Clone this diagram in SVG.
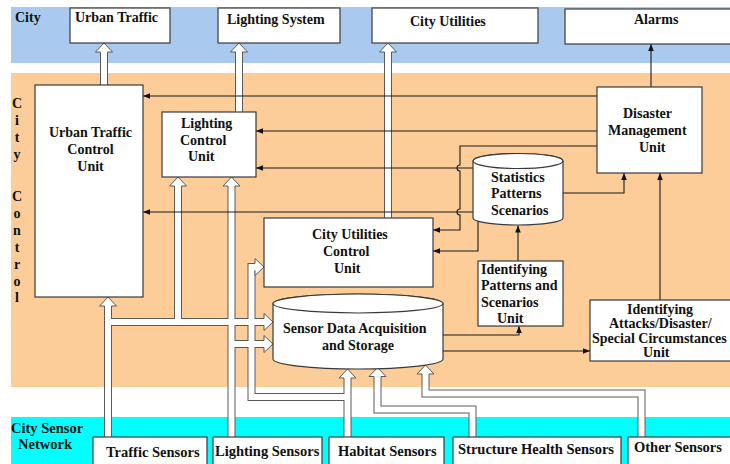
<svg xmlns="http://www.w3.org/2000/svg" width="730" height="464" viewBox="0 0 730 464">
<style>
.t{font-family:"Liberation Serif","Times New Roman",serif;font-weight:bold;font-size:14px;fill:#111}
.s{font-size:14.5px}
.box{fill:#fff;stroke:#3a3a3a;stroke-width:1.2}
.ln{fill:none;stroke:#1a1a1a;stroke-width:1.1;marker-end:url(#ah)}
.po{fill:none;stroke:#5a5a5a;stroke-width:8}
.pi{fill:none;stroke:#fff;stroke-width:6}
.hd{fill:#fff;stroke:#5a5a5a;stroke-width:1}
</style>
<defs>
<marker id="ah" viewBox="0 0 10 10" refX="10" refY="5" markerWidth="7" markerHeight="7" markerUnits="userSpaceOnUse" orient="auto"><path d="M0,1 L10,5 L0,9 z" fill="#111"/></marker>
<path id="hu" d="M-3.5,9 H-8.5 L0,0 L8.5,9 H3.5"/>
</defs>
<g id="bands">
<rect x="11" y="7" width="719" height="56" fill="#a9c9ee"/>
<rect x="11" y="73" width="719" height="314" fill="#fccc99"/>
<rect x="11" y="417" width="719" height="47" fill="#00ffff"/>
<text class="t" x="15" y="22">City</text>
<text class="t" text-anchor="middle"><tspan x="17" y="108">C</tspan><tspan x="17" y="125">i</tspan><tspan x="17" y="142">t</tspan><tspan x="17" y="159">y</tspan><tspan x="17" y="201">C</tspan><tspan x="17" y="218">o</tspan><tspan x="17" y="235">n</tspan><tspan x="17" y="252">t</tspan><tspan x="17" y="269">r</tspan><tspan x="17" y="286">o</tspan><tspan x="17" y="302">l</tspan></text>
<text class="t s"><tspan x="11" y="433">City Sensor</tspan><tspan x="18" y="449">Network</tspan></text>
</g>
<g id="connectors">
<path class="po" d="M108,437 V306 M108,322 H264 M178,322 V186 M231.5,437 V186 M231.5,344 H264 M347.5,437 V378 M347.5,397 H251.5 V267 H255 M472.5,437 V409.5 H377.5 V376.5 M641.5,437 V393.5 H425.5 V374 M104,85 V52 M239,112 V52 M388,218 V52"/>
<path class="pi" d="M108,437 V306 M108,322 H264 M178,322 V186 M231.5,437 V186 M231.5,344 H264 M347.5,437 V378 M347.5,397 H251.5 V267 H255 M472.5,437 V409.5 H377.5 V376.5 M641.5,437 V393.5 H425.5 V374 M104,85 V52 M239,112 V52 M388,218 V52"/>
<use href="#hu" class="hd" transform="translate(104,43)"/>
<use href="#hu" class="hd" transform="translate(239,43)"/>
<use href="#hu" class="hd" transform="translate(388,43)"/>
<use href="#hu" class="hd" transform="translate(108,297)"/>
<use href="#hu" class="hd" transform="translate(178,177)"/>
<use href="#hu" class="hd" transform="translate(231.5,177)"/>
<use href="#hu" class="hd" transform="translate(347.5,369)"/>
<use href="#hu" class="hd" transform="translate(377.5,367.5)"/>
<use href="#hu" class="hd" transform="translate(425.5,365)"/>
<use href="#hu" class="hd" transform="translate(273,322) rotate(90)"/>
<use href="#hu" class="hd" transform="translate(273,344) rotate(90)"/>
<use href="#hu" class="hd" transform="translate(264,267) rotate(90)"/>
<path class="ln" d="M651,87 V44"/>
<path class="ln" d="M597,96 H143"/>
<path class="ln" d="M597,131 H256"/>
<path class="ln" d="M597,146 H460 V165 A3,3 0 0 0 460,171 V209 A3,3 0 0 0 460,215 V230 H433"/>
<path class="ln" d="M473,168 H256"/>
<path class="ln" d="M473,212 H143"/>
<path class="ln" d="M478,221 V251 H433"/>
<path class="ln" d="M563,193 H624 V173"/>
<path class="ln" d="M660,300 V173"/>
<path class="ln" d="M518,261 V225.5"/>
<path class="ln" d="M443,335 H519 V326"/>
<path class="ln" d="M443,351 H590"/>
</g>
<g id="urban-traffic"><rect class="box" x="70" y="8" width="100" height="35"/><text class="t" x="75" y="22">Urban Traffic</text></g>
<g id="lighting-system"><rect class="box" x="218" y="8" width="122" height="35"/><text class="t" x="227" y="24">Lighting System</text></g>
<g id="city-utilities"><rect class="box" x="372" y="8" width="166" height="35"/><text class="t" x="410" y="26">City Utilities</text></g>
<g id="alarms"><rect class="box" x="565" y="9" width="170" height="35"/><text class="t" x="634" y="24">Alarms</text></g>
<g id="urban-traffic-control"><rect class="box" x="35" y="85" width="108" height="212"/><text class="t" text-anchor="middle"><tspan x="90.5" y="137">Urban Traffic</tspan><tspan x="90.5" y="154">Control</tspan><tspan x="90.5" y="171">Unit</tspan></text></g>
<g id="lighting-control"><rect class="box" x="162" y="112" width="94" height="65"/><text class="t"><tspan x="181" y="128">Lighting</tspan><tspan x="180" y="145">Control</tspan><tspan x="188" y="161">Unit</tspan></text></g>
<g id="city-utilities-control"><rect class="box" x="264" y="218" width="169" height="69"/><text class="t"><tspan x="312" y="239">City Utilities</tspan><tspan x="323" y="256">Control</tspan><tspan x="334" y="273">Unit</tspan></text></g>
<g id="disaster-management"><rect class="box" x="597" y="87" width="105" height="86"/><text class="t"><tspan x="623" y="118">Disaster</tspan><tspan x="608" y="135">Management</tspan><tspan x="639" y="152">Unit</tspan></text></g>
<g id="statistics"><path class="box" d="M473,161 V218 A45,7 0 0 0 563,218 V161 A45,7.5 0 0 0 473,161 Z"/><ellipse class="box" cx="518" cy="161" rx="45" ry="7.5"/><text class="t"><tspan x="491" y="182">Statistics</tspan><tspan x="491" y="198">Patterns</tspan><tspan x="491" y="215">Scenarios</tspan></text></g>
<g id="identifying-patterns"><rect class="box" x="478" y="261" width="85" height="65"/><text class="t"><tspan x="481" y="274">Identifying</tspan><tspan x="481" y="290">Patterns and</tspan><tspan x="481" y="307">Scenarios</tspan><tspan x="497" y="323">Unit</tspan></text></g>
<g id="sensor-data"><path class="box" d="M273,303.5 V359 A85,10 0 0 0 443,359 V303.5 A85,9.5 0 0 0 273,303.5 Z"/><ellipse class="box" cx="358" cy="303.5" rx="85" ry="9.5"/><text class="t"><tspan x="283" y="333">Sensor Data Acquisition</tspan><tspan x="322" y="350">and Storage</tspan></text></g>
<g id="identifying-attacks"><rect class="box" x="590" y="300" width="145" height="61"/><text class="t"><tspan x="627" y="314">Identifying</tspan><tspan x="609" y="328">Attacks/Disaster/</tspan><tspan x="592" y="343">Special Circumstances</tspan><tspan x="643" y="357">Unit</tspan></text></g>
<g id="traffic-sensors"><rect class="box" x="93" y="437" width="114" height="30"/><text class="t s" x="106" y="457">Traffic Sensors</text></g>
<g id="lighting-sensors"><rect class="box" x="213" y="437" width="109" height="30"/><text class="t s" x="215" y="456">Lighting Sensors</text></g>
<g id="habitat-sensors"><rect class="box" x="329" y="437" width="115" height="30"/><text class="t s" x="338" y="456">Habitat Sensors</text></g>
<g id="structure-health-sensors"><rect class="box" x="453" y="437" width="168" height="30"/><text class="t s" x="458" y="454">Structure Health Sensors</text></g>
<g id="other-sensors"><rect class="box" x="628" y="437" width="107" height="30"/><text class="t s" x="634" y="452">Other Sensors</text></g>
</svg>
